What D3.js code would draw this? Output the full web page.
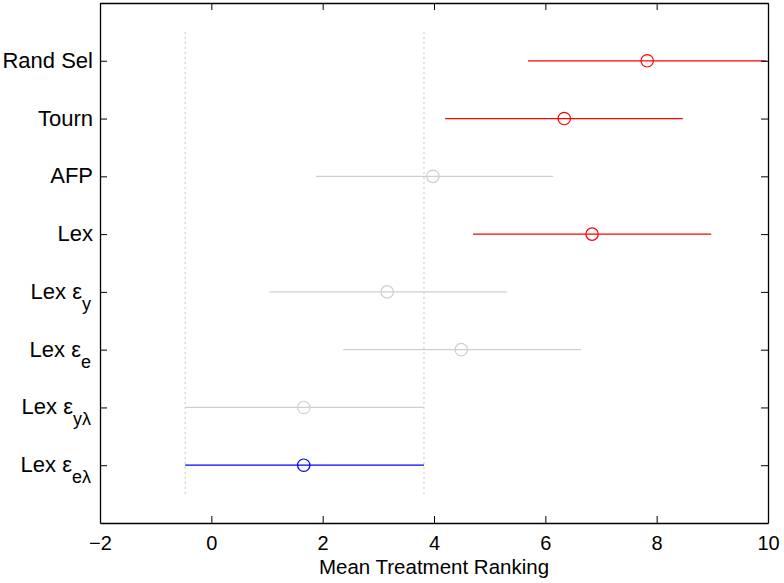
<!DOCTYPE html>
<html>
<head>
<meta charset="utf-8">
<script src="https://cdn.jsdelivr.net/npm/d3@7"></script>
<style>
  body { margin: 0; background: #fff; }
  text { font-family: "Liberation Sans", Arial, sans-serif; }
</style>
</head>
<body>
<div id="chart"></div>
<script>
// treatments, top to bottom
const names = ["Rand Sel", "Tourn", "AFP", "Lex", "Lex ε|y", "Lex ε|e", "Lex ε|yλ", "Lex ε|eλ"];
const means = [7.83, 6.34, 3.98, 6.84, 3.16, 4.49, 1.66, 1.66];
const lows  = [5.69, 4.20, 1.88, 4.70, 1.04, 2.37, -0.47, -0.47];
const highs = [9.97, 8.47, 6.14, 8.98, 5.31, 6.64, 3.82, 3.82];
const groups = ["worse", "worse", "same", "worse", "same", "same", "same", "best"];
const refLines = [-0.47, 3.82];
const xTicks = [-2, 0, 2, 4, 6, 8, 10];

const colors = { worse: "#ff0000", same: "#cfcfcf", best: "#0000ff" };

const margin = { top: 3, right: 16, bottom: 60, left: 100 };
const width = 784 - margin.left - margin.right;
const height = 583 - margin.top - margin.bottom;

const svg = d3.select("#chart").append("svg")
    .attr("width", 784)
    .attr("height", 583);

const g = svg.append("g")
    .attr("transform", `translate(${margin.left}, ${margin.top})`);

const x = d3.scaleLinear().domain([-2, 10]).range([0, width]);
const y = d3.scaleLinear().domain([0, 9]).range([height, 0]);
const pos = i => names.length - i;

// dotted reference lines
g.selectAll(".ref").data(refLines).enter().append("line")
    .attr("x1", d => x(d)).attr("x2", d => x(d))
    .attr("y1", y(8.5)).attr("y2", y(0.5))
    .style("stroke", "#c4c4c4")
    .style("stroke-width", 1)
    .style("stroke-dasharray", "2,3");

svg.append("clipPath").attr("id", "clip")
    .append("rect").attr("width", width).attr("height", height);

const marks = g.append("g").attr("clip-path", "url(#clip)");

// interval lines
marks.selectAll(".bar").data(names).enter().append("line")
    .attr("x1", (d, i) => x(lows[i]))
    .attr("x2", (d, i) => x(highs[i]))
    .attr("y1", (d, i) => y(pos(i)))
    .attr("y2", (d, i) => y(pos(i)))
    .style("stroke", (d, i) => colors[groups[i]])
    .style("stroke-width", 1.2);

// means
marks.selectAll(".mean").data(names).enter().append("circle")
    .attr("cx", (d, i) => x(means[i]))
    .attr("cy", (d, i) => y(pos(i)))
    .attr("r", 6.2)
    .style("fill", "none")
    .style("stroke", (d, i) => colors[groups[i]])
    .style("stroke-width", 1.2);

// axes (MATLAB style: inward ticks on all sides)
const tickLen = 7;
const xAxis = g.append("g")
    .attr("transform", `translate(0, ${height})`)
    .call(d3.axisBottom(x).tickValues(xTicks).tickSizeInner(-tickLen).tickSizeOuter(0)
        .tickPadding(13).tickFormat(d => d < 0 ? "\u2212" + Math.abs(d) : d));
g.append("g")
    .call(d3.axisTop(x).tickValues(xTicks).tickSizeInner(-tickLen).tickSizeOuter(0).tickFormat(""));

const yTicks = names.map((d, i) => pos(i));
g.append("g")
    .call(d3.axisLeft(y).tickValues(yTicks).tickSizeInner(-tickLen).tickSizeOuter(0).tickFormat(""));
g.append("g")
    .attr("transform", `translate(${width}, 0)`)
    .call(d3.axisRight(y).tickValues(yTicks).tickSizeInner(-tickLen).tickSizeOuter(0).tickFormat(""));

g.selectAll(".domain").style("stroke", "#000").style("stroke-width", 1.3);
g.selectAll(".tick line").style("stroke", "#000");

xAxis.selectAll("text")
    .style("font-size", "20px")
    .style("fill", "#000");

// y labels with subscripts
names.forEach((name, i) => {
    const parts = name.split("|");
    const t = g.append("text")
        .attr("x", -7)
        .attr("y", y(pos(i)) + 7)
        .attr("text-anchor", "end")
        .style("font-size", "22px")
        .style("fill", "#000");
    if (parts.length === 1) {
        t.text(name);
    } else {
        t.attr("x", -9);
        t.append("tspan").text(parts[0]);
        t.append("tspan").attr("dy", 11).style("font-size", "18px").text(parts[1]);
    }
});

// x label
g.append("text")
    .attr("x", x(4))
    .attr("y", height + 51)
    .attr("text-anchor", "middle")
    .style("font-size", "20.5px")
    .style("fill", "#000")
    .text("Mean Treatment Ranking");
</script>
</body>
</html>
